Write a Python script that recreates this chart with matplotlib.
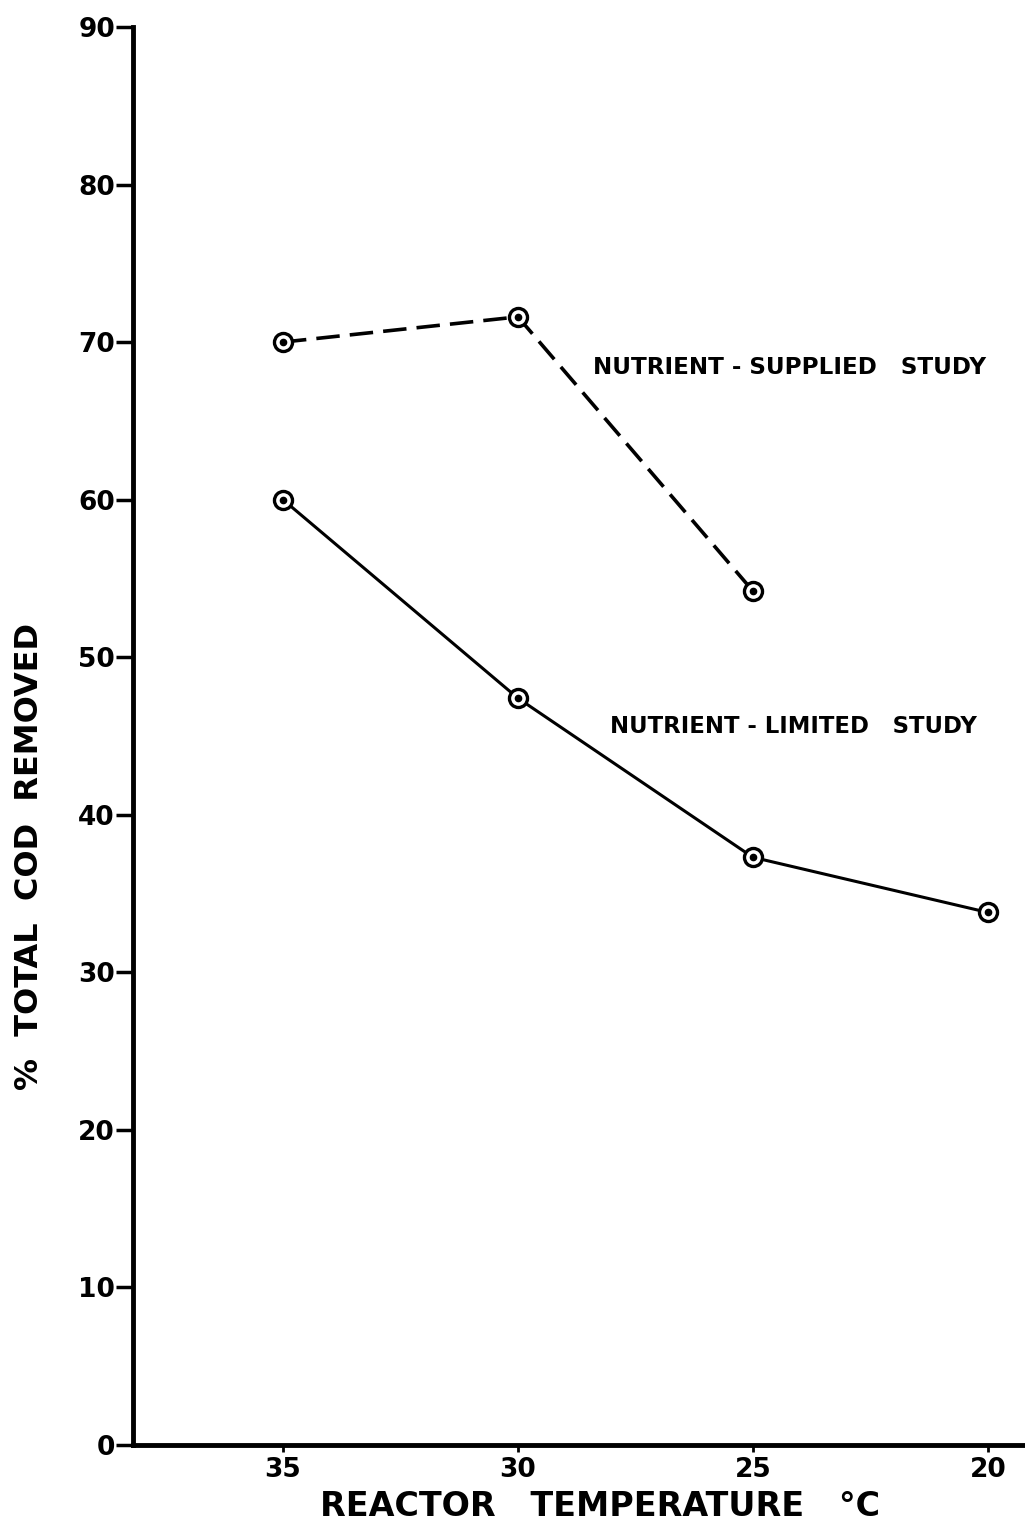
import matplotlib.pyplot as plt

# data
temps_supplied = [35, 30, 25]
cod_supplied = [70.0, 71.6, 54.2]
temps_limited = [35, 30, 25, 20]
cod_limited = [60.0, 47.4, 37.3, 33.8]
x_ticks = [35, 30, 25, 20]
y_ticks = [0, 10, 20, 30, 40, 50, 60, 70, 80, 90]

plt.rcParams['font.family'] = ['DejaVu Sans']

fig = plt.figure(figsize=(10.25, 15.32), dpi=100)
ax = fig.add_axes([0.1298, 0.0568, 0.8702, 0.9256])

# nutrient-supplied (dashed)
ax.plot(temps_supplied, cod_supplied, color='black', lw=2.6,
        linestyle=(0, (6.5, 2.8)), zorder=2)
# nutrient-limited (solid)
ax.plot(temps_limited, cod_limited, color='black', lw=2.2, zorder=2)

# circle with dot markers
for xs, ys in [(temps_supplied, cod_supplied), (temps_limited, cod_limited)]:
    ax.plot(xs, ys, linestyle='none', marker='o', ms=13, mfc='white',
            mec='black', mew=2.4, zorder=3)
    ax.plot(xs, ys, linestyle='none', marker='o', ms=4.5, color='black', zorder=4)

ax.set_xlim(38.19, 19.21)
ax.set_ylim(0, 90)

ax.spines['top'].set_visible(False)
ax.spines['right'].set_visible(False)
ax.spines['left'].set_linewidth(3.5)
ax.spines['bottom'].set_linewidth(3.5)

ax.set_yticks(y_ticks)
ax.set_yticklabels([str(v) for v in y_ticks], fontsize=19, fontweight='bold')
ax.set_xticks(x_ticks)
ax.set_xticklabels([str(v) for v in x_ticks], fontsize=19, fontweight='bold')
ax.tick_params(axis='y', direction='out', length=12, width=2.5, pad=1)
ax.tick_params(axis='x', direction='out', length=5, width=2, pad=4)

ax.set_xlabel('REACTOR   TEMPERATURE   °C', fontsize=24, fontweight='bold')
ax.xaxis.set_label_coords(0.5235, -0.032)
ax.set_ylabel('%  TOTAL  COD  REMOVED', fontsize=23, fontweight='bold')
ax.yaxis.set_label_coords(-0.099, 0.415)

ax.text(28.4, 68.4, 'NUTRIENT - SUPPLIED   STUDY', fontsize=16.6,
        fontweight='bold', ha='left', va='center')
ax.text(28.05, 45.6, 'NUTRIENT - LIMITED   STUDY', fontsize=16.4,
        fontweight='bold', ha='left', va='center')

fig.savefig('out.png', dpi=100)
